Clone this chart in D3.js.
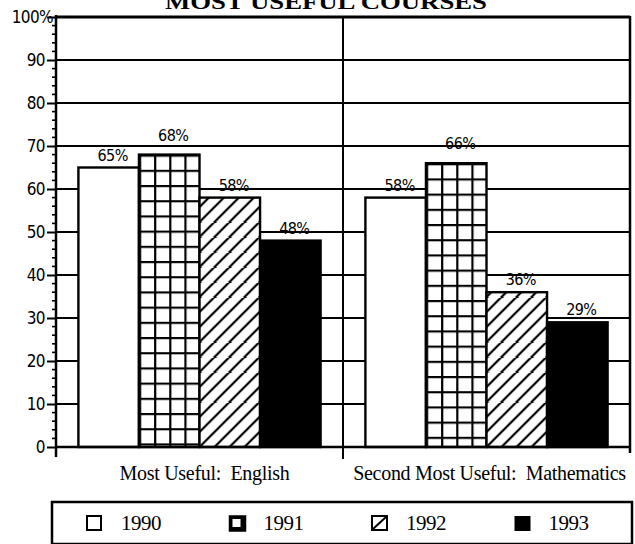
<!DOCTYPE html>
<html><head><meta charset="utf-8">
<script src="https://cdn.jsdelivr.net/npm/d3@7"></script>
<style>html,body{margin:0;padding:0;background:#fff;}svg{display:block;}</style>
</head><body>
<script>
const categories = ["Most Useful:  English", "Second Most Useful:  Mathematics"];
const years = ["1990", "1991", "1992", "1993"];
const values = {
  "1990": [65, 58],
  "1991": [68, 66],
  "1992": [58, 36],
  "1993": [48, 29]
};
const yTicks = [0,10,20,30,40,50,60,70,80,90,100];
const yTickLabels = ["0","10","20","30","40","50","60","70","80","90","100%"];
const title = "MOST USEFUL COURSES";

(function () {
const W = 635, H = 544;
const svg = d3.select("body").append("svg").attr("width", W).attr("height", H);
svg.append("rect").attr("width", W).attr("height", H).attr("fill", "#fff");
const defs = svg.append("defs");

const pL = 56, pR = 630, pT = 17, pB = 447;
const y = d3.scaleLinear().domain([0, 100]).range([pB, pT]);
const x0 = d3.scaleBand().domain(categories).range([pL, pR]).paddingInner(0).paddingOuter(0);
const x1 = d3.scaleBand().domain(years).range([0, x0.bandwidth()]).paddingInner(0).paddingOuter(0.37);

// title (cut off at top, as in the scanned original)
svg.append("text").attr("x", 326).attr("y", 9).attr("text-anchor", "middle")
  .attr("font-family", "Liberation Serif").attr("font-weight", "bold").attr("font-size", 22)
  .attr("textLength", 322).attr("lengthAdjust", "spacingAndGlyphs").text(title);

// gridlines
svg.append("g").selectAll("line").data(yTicks.filter(d => d > 0)).join("line")
  .attr("x1", pL).attr("x2", pR).attr("y1", d => y(d)).attr("y2", d => y(d))
  .attr("stroke", "#000").attr("stroke-width", d => d === 100 ? 3 : 2);

// frame: right edge and middle divider
svg.append("line").attr("x1", pR).attr("x2", pR).attr("y1", pT - 1).attr("y2", pB + 6)
  .attr("stroke", "#000").attr("stroke-width", 2.5);
svg.append("line").attr("x1", x0(categories[1])).attr("x2", x0(categories[1]))
  .attr("y1", pT).attr("y2", pB + 12).attr("stroke", "#000").attr("stroke-width", 2);

// bars
const bars = [];
categories.forEach((c, ci) => years.forEach(yr => bars.push({cat: c, year: yr, v: values[yr][ci]})));

bars.forEach((b, i) => {
  const bx = x0(b.cat) + x1(b.year), bw = x1.bandwidth(), by = y(b.v), bh = pB - y(b.v);
  let fill = "#fff";
  if (b.year === "1991") {
    const id = "grid" + i, cw = bw / 4, ch = 15.2;
    const p = defs.append("pattern").attr("id", id).attr("patternUnits", "userSpaceOnUse")
      .attr("x", bx).attr("y", by).attr("width", cw).attr("height", ch);
    p.append("rect").attr("width", cw).attr("height", ch).attr("fill", "#fff");
    p.append("path").attr("d", `M0,0H${cw}M0,0V${ch}`).attr("stroke", "#000").attr("stroke-width", 4.4);
    fill = `url(#${id})`;
  } else if (b.year === "1992") {
    const id = "hatch" + i, s = 15;
    const p = defs.append("pattern").attr("id", id).attr("patternUnits", "userSpaceOnUse")
      .attr("x", bx).attr("y", pB).attr("width", s).attr("height", s);
    p.append("rect").attr("width", s).attr("height", s).attr("fill", "#fff");
    p.append("path").attr("d", `M-2,${s+2}L${s+2},-2M${-s/2},${s/2}L${s/2},${-s/2}M${s/2},${s*1.5}L${s*1.5},${s/2}`)
      .attr("stroke", "#000").attr("stroke-width", 2.2);
    fill = `url(#${id})`;
  } else if (b.year === "1993") {
    fill = "#000";
  }
  svg.append("rect").attr("x", bx).attr("y", by).attr("width", bw).attr("height", bh)
    .attr("fill", fill).attr("stroke", "#000").attr("stroke-width", 2.4);
  const off = b.year === "1991" ? 14 : 7;
  svg.append("text").attr("x", bx + bw / 2 + 4).attr("y", by - off).attr("text-anchor", "middle")
    .attr("font-family", "DejaVu Sans Condensed, DejaVu Sans").attr("font-size", 16)
    .attr("letter-spacing", -0.6).text(b.v + "%");
});

// y axis
const yAxis = svg.append("g").attr("transform", `translate(${pL},0)`)
  .call(d3.axisLeft(y).tickValues(yTicks).tickSize(9).tickPadding(2)
    .tickFormat((d, i) => yTickLabels[i]));
yAxis.select(".domain").remove();
yAxis.selectAll(".tick line").attr("stroke", "#000").attr("stroke-width", 2);
yAxis.selectAll(".tick text").attr("font-family", "DejaVu Sans Condensed, DejaVu Sans")
  .attr("font-size", 17).attr("fill", "#000").attr("letter-spacing", -0.6);
yAxis.selectAll(".tick").filter(d => d === 100).select("text").attr("x", -3);
const minor = d3.range(0, 101, 2).filter(d => d % 10 !== 0);
svg.append("g").selectAll("line").data(minor).join("line")
  .attr("x1", pL - 4).attr("x2", pL).attr("y1", d => y(d)).attr("y2", d => y(d))
  .attr("stroke", "#000").attr("stroke-width", 1.6);
svg.append("line").attr("x1", pL).attr("x2", pL).attr("y1", pT - 2).attr("y2", pB + 10)
  .attr("stroke", "#000").attr("stroke-width", 2.5);

// x axis
svg.append("line").attr("x1", pL).attr("x2", pR).attr("y1", pB).attr("y2", pB)
  .attr("stroke", "#000").attr("stroke-width", 2.5);
svg.append("g").selectAll("text").data(categories).join("text")
  .attr("x", (d, i) => x0(d) + x0.bandwidth() / 2 + (i === 0 ? 5 : 3)).attr("y", 480)
  .attr("text-anchor", "middle").attr("font-family", "Liberation Serif").attr("font-size", 20)
  .attr("letter-spacing", -0.3).style("white-space", "pre").text(d => d);

// legend
svg.append("rect").attr("x", 52).attr("y", 502).attr("width", 580).attr("height", 42)
  .attr("fill", "#fff").attr("stroke", "#000").attr("stroke-width", 2.5);
const lx = d3.scaleBand().domain(years).range([70, 640]);
const lg = svg.append("g").selectAll("g").data(years).join("g")
  .attr("transform", d => `translate(${lx(d) + 17},516)`);
lg.each(function(d) {
  const g = d3.select(this);
  if (d === "1990") {
    g.append("rect").attr("width", 14).attr("height", 14).attr("fill", "#fff").attr("stroke", "#000").attr("stroke-width", 2);
  } else if (d === "1991") {
    g.append("rect").attr("width", 16).attr("height", 15).attr("fill", "#000").attr("stroke", "#000").attr("stroke-width", 1.5);
    g.append("rect").attr("x", 3).attr("y", 3).attr("width", 8).attr("height", 8).attr("fill", "#fff");
  } else if (d === "1992") {
    g.append("rect").attr("width", 15).attr("height", 14).attr("fill", "#fff").attr("stroke", "#000").attr("stroke-width", 2);
    g.append("line").attr("x1", 1).attr("y1", 13).attr("x2", 14).attr("y2", 1).attr("stroke", "#000").attr("stroke-width", 2);
  } else {
    g.append("rect").attr("width", 16).attr("height", 15).attr("fill", "#000");
  }
  g.append("text").attr("x", 34).attr("y", 14).attr("font-family", "Liberation Serif")
    .attr("font-size", 21).attr("letter-spacing", -0.5).text(d);
});
})();
</script>
</body></html>
